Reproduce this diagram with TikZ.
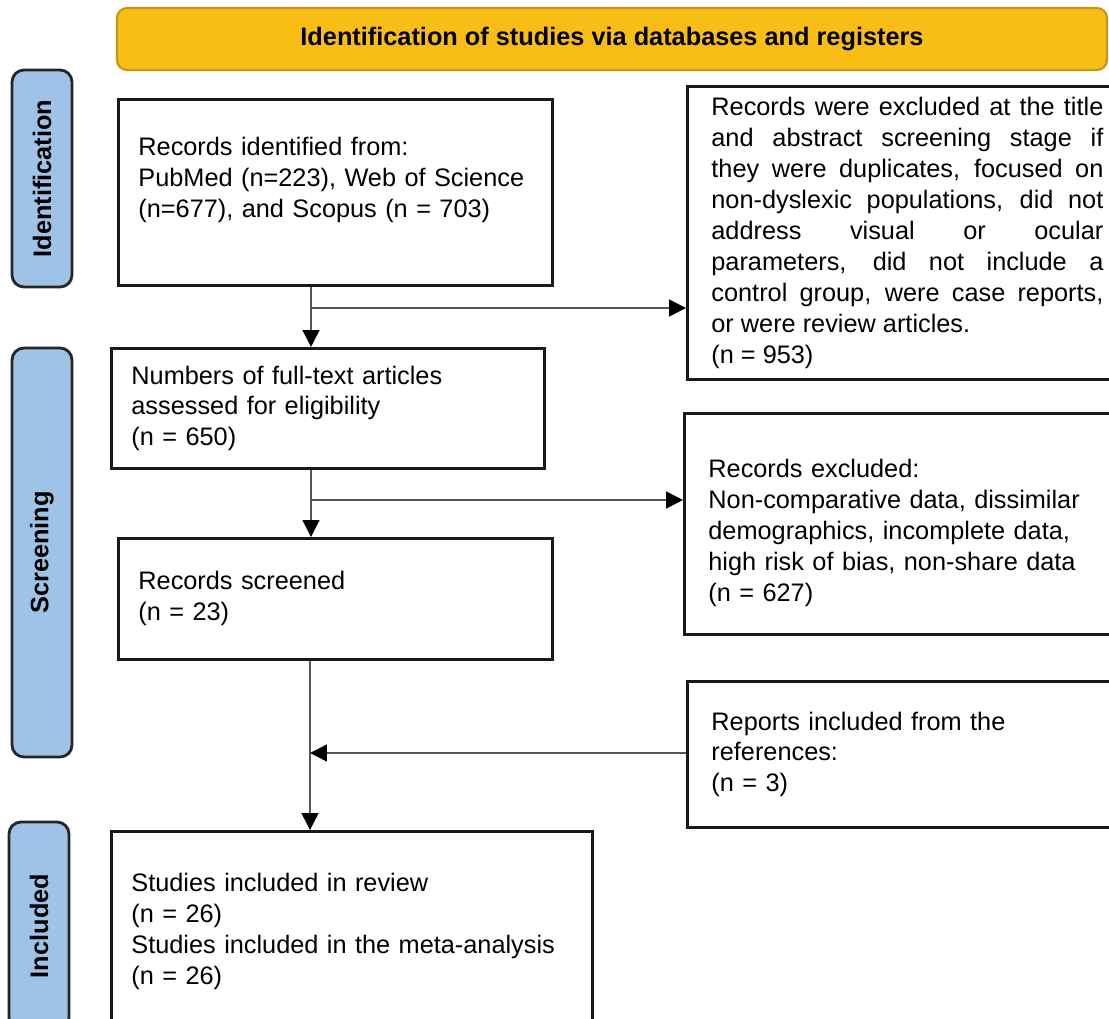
\documentclass[tikz,border=0pt]{standalone}
\usepackage{fontspec}
\setmainfont{Liberation Sans}
\usetikzlibrary{arrows.meta}
\definecolor{bannerfill}{RGB}{249,190,22}
\definecolor{bannerline}{RGB}{201,150,18}
\definecolor{stagefill}{RGB}{158,195,230}
\definecolor{linkgray}{RGB}{85,85,85}
\begin{document}
\begin{tikzpicture}[x=0.025cm,
                    y=-0.025cm,
                    font=\fontsize{18}{22}\selectfont,
                    box/.style={draw=black!90, line width=2pt, anchor=north west,
                                inner xsep=0.5cm, inner ysep=0pt, align=left},
                    stage/.style={draw=black!85, line width=2pt, fill=stagefill,
                                  rounded corners=0.3cm, rotate=90,
                                  minimum height=1.5cm, font=\fontsize{18}{22}\selectfont\bfseries},
                    flow/.style={draw=linkgray, line width=1pt,
                                 -{Triangle[length=0.42cm, width=0.42cm, color=black]}}]

  \useasboundingbox (0,0) rectangle (1109,1018);

  % banner and stages
  \node[draw=bannerline, line width=1.5pt, fill=bannerfill, rounded corners=0.25cm,
        minimum width=990*0.025cm, minimum height=62*0.025cm,
        font=\fontsize{18}{22}\selectfont\bfseries] (banner) at (612,39)
        {Identification of studies via databases and registers};
  \node[stage, minimum width=217*0.025cm] (sident) at (42,178.5) {Identification};
  \node[stage, minimum width=409*0.025cm] (sscreen) at (42,552.5) {Screening};
  \node[stage, minimum width=208*0.025cm] (sincl) at (39,926) {Included};

  % left column
  \node[box, minimum width=434*0.025cm, minimum height=186*0.025cm, text width=394*0.025cm]
        (ident) at (117,98)
        {Records identified from:\\ PubMed (n=223), Web of Science\\ (n=677), and Scopus (n = 703)\\[-0.25cm] \strut};
  \node[box, minimum width=433*0.025cm, minimum height=120*0.025cm, text width=393*0.025cm]
        (elig) at (110,347)
        {Numbers of full-text articles\\ assessed for eligibility\\ (n = 650)};
  \node[box, minimum width=434*0.025cm, minimum height=121*0.025cm, text width=394*0.025cm]
        (screen) at (117,537)
        {Records screened\\ (n = 23)};
  \node[box, minimum width=481*0.025cm, minimum height=200*0.025cm, text width=441*0.025cm]
        (incl) at (110,830)
        {Studies included in review\\ (n = 26)\\ Studies included in the meta-analysis\\ (n = 26)};

  % right column
  \node[box, minimum width=440*0.025cm, minimum height=293*0.025cm, text width=392*0.025cm,
        align=justify] (excl1) at (686,85)
        {\hyphenpenalty=10000 \exhyphenpenalty=10000
         Records were excluded at the title\linebreak
         and abstract screening stage if\linebreak
         they were duplicates, focused on\linebreak
         non-dyslexic populations, did not\linebreak
         address visual or ocular\linebreak
         parameters, did not include a\linebreak
         control group, were case reports,\linebreak
         or were review articles.\\ (n = 953)};
  \node[box, minimum width=443*0.025cm, minimum height=221*0.025cm, text width=395*0.025cm,
        inner xsep=0.575cm] (excl2) at (683,412)
        {\strut\\[-0.4cm] Records excluded:\\ Non-comparative data, dissimilar\\ demographics, incomplete data,\\
         high risk of bias, non-share data\\ (n = 627)};
  \node[box, minimum width=440*0.025cm, minimum height=146*0.025cm, text width=392*0.025cm]
        (refs) at (686,680)
        {Reports included from the\\ references:\\ (n = 3)};

  % connectors
  \coordinate (j1) at (311,308);
  \coordinate (j2) at (311,500);
  \coordinate (j3) at (310,753);

  \draw[flow] (ident.south -| j1) -- (elig.north -| j1);
  \draw[flow] (j1) -- (excl1.west |- j1);
  \draw[flow] (elig.south -| j2) -- (screen.north -| j2);
  \draw[flow] (j2) -- (excl2.west |- j2);
  \draw[flow] (screen.south -| j3) -- (incl.north -| j3);
  \draw[flow] (refs.west |- j3) -- (j3);
\end{tikzpicture}
\end{document}
